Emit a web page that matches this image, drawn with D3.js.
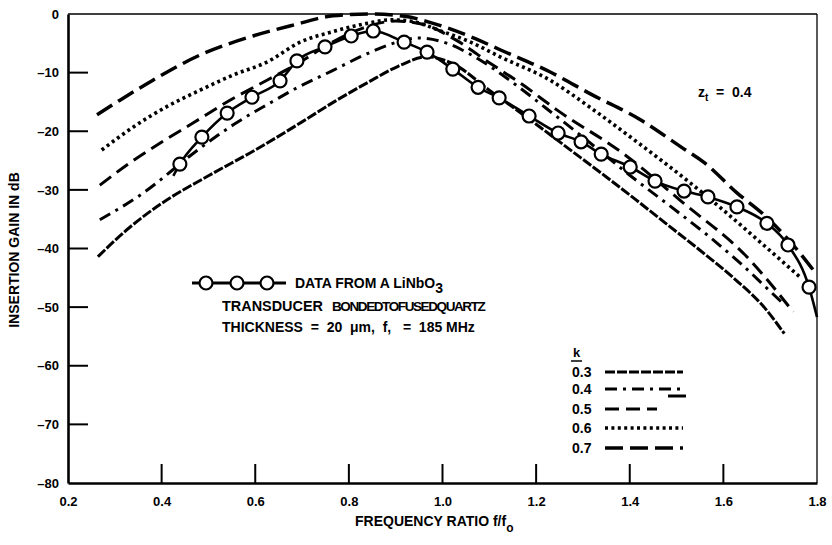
<!DOCTYPE html>
<html>
<head>
<meta charset="utf-8">
<script src="https://cdn.jsdelivr.net/npm/d3@7"></script>
<style>
  body { margin: 0; background: #fff; }
  svg { display: block; }
  text { font-family: "Liberation Sans", Arial, Helvetica, sans-serif; font-weight: 700; fill: #000; }
</style>
</head>
<body>
<svg id="chart" width="832" height="545"></svg>
<script>
// Axis ticks
const freqTicks = [0.2, 0.4, 0.6, 0.8, 1.0, 1.2, 1.4, 1.6, 1.8];
const gainTicks = [0, -10, -20, -30, -40, -50, -60, -70, -80];

// Measured points (circles) - f/f0, dB
const dataFreq = [0.439, 0.486, 0.540, 0.593, 0.653, 0.689, 0.749, 0.805, 0.852, 0.918,
  0.967, 1.022, 1.076, 1.121, 1.185, 1.247, 1.296, 1.339, 1.401, 1.454,
  1.516, 1.567, 1.629, 1.693, 1.738, 1.783];
const dataGain = [-25.6, -21.0, -16.9, -14.2, -11.4, -8.0, -5.6, -3.75, -2.9, -4.8,
  -6.5, -9.4, -12.5, -14.3, -17.4, -20.3, -21.8, -23.9, -26.1, -28.5,
  -30.2, -31.2, -32.9, -35.7, -39.4, -46.6];
// where the measured line starts and ends beyond the circles
const dataLineEnds = [[0.425, -27.6], [1.8, -51.7]];

// Theory curves, one per coupling constant k
const kValues = ["0.3", "0.4", "0.5", "0.6", "0.7"];
const k03 = [[0.264,-41.4],[0.32,-37.2],[0.4,-32.3],[0.5,-27.6],[0.6,-23.2],[0.7,-18.4],
  [0.77,-14.9],[0.84,-11.7],[0.903,-9.0],[0.967,-7.3],[1.02,-8.4],[1.1,-13.0],[1.2,-18.8],
  [1.27,-23.0],[1.35,-27.8],[1.41,-31.5],[1.48,-35.9],[1.55,-40.3],[1.62,-44.9],[1.69,-50.3],[1.73,-54.5]];
const k04 = [[0.268,-35.1],[0.354,-30.9],[0.482,-22.9],[0.553,-18.9],[0.631,-15.2],[0.689,-12.6],
  [0.764,-9.7],[0.841,-6.7],[0.903,-4.8],[0.946,-4.1],[1.01,-5.0],[1.06,-6.9],[1.157,-12.1],
  [1.22,-16.0],[1.3,-21.0],[1.4,-27.5],[1.5,-33.6],[1.567,-37.8],[1.636,-42.5],[1.70,-47.3],[1.725,-49.2]];
const k05 = [[0.268,-29.2],[0.332,-25.4],[0.397,-22.0],[0.467,-18.6],[0.546,-14.7],[0.625,-11.3],
  [0.69,-8.5],[0.76,-5.0],[0.83,-2.4],[0.9,-1.2],[0.96,-1.8],[1.03,-4.5],[1.1,-8.3],[1.17,-12.0],
  [1.245,-16.4],[1.386,-23.8],[1.514,-32.2],[1.65,-41.4],[1.749,-50.8]];
const k06 = [[0.272,-23.2],[0.339,-19.3],[0.411,-15.8],[0.482,-13.0],[0.553,-10.4],[0.625,-8.2],
  [0.696,-4.8],[0.766,-3.0],[0.839,-1.6],[0.888,-1.0],[0.93,-1.2],[1.0,-3.0],[1.06,-4.8],
  [1.123,-7.3],[1.23,-11.3],[1.32,-16.2],[1.415,-21.8],[1.529,-28.8],[1.593,-33.0],[1.68,-39.0],[1.764,-44.9]];
const k07 = [[0.262,-17.2],[0.311,-14.7],[0.375,-11.6],[0.482,-7.0],[0.589,-3.9],[0.681,-1.9],
  [0.766,-0.3],[0.84,0],[0.92,-0.4],[0.98,-1.6],[1.07,-4.2],[1.123,-6.1],[1.23,-9.9],[1.32,-13.8],
  [1.42,-17.9],[1.51,-22.7],[1.56,-25.4],[1.629,-30.5],[1.69,-34.5],[1.75,-39.5],[1.8,-44.5]];
const curves = [k03, k04, k05, k06, k07];

// line looks for each k (dash pattern, width)
const dashes = ["10,2", "12,6,3,6", "14,7", "3,3.4", "18,7"];
const widths = [3, 3, 3, 3.6, 3.5];

const svg = d3.select("#chart");
const plotL = 68, plotR = 817, plotT = 14, plotB = 483;

const x = d3.scaleLinear().domain([0.2, 1.8]).range([plotL, plotR]);
const y = d3.scaleLinear().domain([-80, 0]).range([plotB, plotT]);

// Frame: thick left/bottom, thin top/right
svg.append("line").attr("x1", plotL).attr("x2", plotR).attr("y1", plotT).attr("y2", plotT)
  .attr("stroke", "#000").attr("stroke-width", 1.5);
svg.append("line").attr("x1", plotR).attr("x2", plotR).attr("y1", plotT).attr("y2", plotB)
  .attr("stroke", "#000").attr("stroke-width", 1.3);

// Axes with inner ticks
const xAxis = d3.axisBottom(x).tickValues(freqTicks).tickSize(0).tickPadding(14)
  .tickFormat(d3.format(".1f"));
const gx = svg.append("g").attr("transform", `translate(0,${plotB})`).call(xAxis);
gx.select(".domain").attr("stroke-width", 2.6);
gx.selectAll("text").style("font-size", "13px");
svg.selectAll(".xtick").data(freqTicks.filter(d => d > 0.2 && d < 1.8)).enter().append("line")
  .attr("x1", d => x(d)).attr("x2", d => x(d)).attr("y1", plotB).attr("y2", plotB - 19)
  .attr("stroke", "#000").attr("stroke-width", 2);

const yAxis = d3.axisLeft(y).tickValues(gainTicks).tickSize(0).tickPadding(9)
  .tickFormat(d => d === 0 ? "0" : "\u2013" + Math.abs(d));
const gy = svg.append("g").attr("transform", `translate(${plotL},0)`).call(yAxis);
gy.select(".domain").attr("stroke-width", 2.6);
gy.selectAll("text").style("font-size", "13px");
svg.selectAll(".ytick").data(gainTicks.filter(d => d < 0 && d > -80)).enter().append("line")
  .attr("x1", plotL).attr("x2", plotL + 20).attr("y1", d => y(d)).attr("y2", d => y(d))
  .attr("stroke", "#000").attr("stroke-width", 2);
svg.selectAll(".domain, .tick line").attr("stroke", "#000");
svg.selectAll(".tick text").attr("fill", "#000").style("font-family", "Liberation Sans, Arial, sans-serif");

// Axis titles
svg.append("text").attr("transform", "translate(19,250) rotate(-90)")
  .attr("text-anchor", "middle").style("font-size", "14px").text("INSERTION GAIN IN dB");
const xt = svg.append("text").attr("x", 355).attr("y", 526).style("font-size", "14px");
xt.append("tspan").text("FREQUENCY RATIO f/f");
xt.append("tspan").attr("dy", 6).style("font-size", "12px").text("o");

// Theory curves
const line = d3.line().x(d => x(d[0])).y(d => y(d[1])).curve(d3.curveMonotoneX);
svg.selectAll(".theory").data(curves).enter().append("path")
  .attr("class", "theory")
  .attr("d", line)
  .attr("fill", "none").attr("stroke", "#000")
  .attr("stroke-width", (d, i) => widths[i])
  .attr("stroke-dasharray", (d, i) => dashes[i]);

// Measured data
const measured = dataFreq.map((f, i) => [f, dataGain[i]]);
svg.append("path")
  .attr("d", line([dataLineEnds[0], ...measured, dataLineEnds[1]]))
  .attr("fill", "none").attr("stroke", "#000").attr("stroke-width", 2.6);
svg.selectAll(".pt").data(measured).enter().append("circle")
  .attr("cx", d => x(d[0])).attr("cy", d => y(d[1])).attr("r", 6.5)
  .attr("fill", "#fff").attr("stroke", "#000").attr("stroke-width", 2.2);

// Data legend
svg.append("line").attr("x1", 192).attr("x2", 286).attr("y1", 283).attr("y2", 283)
  .attr("stroke", "#000").attr("stroke-width", 3);
svg.selectAll(".lgpt").data([206, 237, 267]).enter().append("circle")
  .attr("cx", d => d).attr("cy", 283).attr("r", 6.5)
  .attr("fill", "#fff").attr("stroke", "#000").attr("stroke-width", 2.2);
const t1 = svg.append("text").attr("x", 295).attr("y", 288).style("font-size", "14px");
t1.append("tspan").text("DATA FROM A LiNbO");
t1.append("tspan").attr("dy", 5).text("3");
svg.append("text").attr("x", 222).attr("y", 311).style("font-size", "14px")
  .attr("textLength", 101).attr("lengthAdjust", "spacingAndGlyphs").text("TRANSDUCER");
svg.append("text").attr("x", 332).attr("y", 311).style("font-size", "13.5px")
  .style("letter-spacing", "-1.4px").text("BONDEDTOFUSEDQUARTZ");
svg.append("text").attr("x", 222).attr("y", 332).style("font-size", "14px")
  .attr("xml:space", "preserve").text("THICKNESS  =  20  \u03bcm,  f,   =  185 MHz");

// z_t label
const zt = svg.append("text").attr("x", 698).attr("y", 97).style("font-size", "14px");
zt.append("tspan").text("z");
zt.append("tspan").attr("dy", 4).style("font-size", "10px").text("t");
zt.append("tspan").attr("dy", -4).attr("xml:space", "preserve").text("  =  0.4");

// k legend
svg.append("text").attr("x", 573).attr("y", 357).style("font-size", "13px").text("k");
svg.append("line").attr("x1", 571).attr("x2", 582).attr("y1", 361).attr("y2", 361)
  .attr("stroke", "#000").attr("stroke-width", 1.5);
const legY = [372, 389, 409, 428, 448];
const legEnd = [683, 685, 657, 683, 683];
kValues.forEach((k, i) => {
  svg.append("text").attr("x", 572).attr("y", legY[i] + 5).style("font-size", "14px").text(k);
  svg.append("line").attr("x1", 605).attr("x2", legEnd[i]).attr("y1", legY[i]).attr("y2", legY[i])
    .attr("stroke", "#000").attr("stroke-width", widths[i]).attr("stroke-dasharray", dashes[i]);
});
svg.append("line").attr("x1", 668).attr("x2", 686).attr("y1", 396).attr("y2", 396)
  .attr("stroke", "#000").attr("stroke-width", 3);
</script>
</body>
</html>
